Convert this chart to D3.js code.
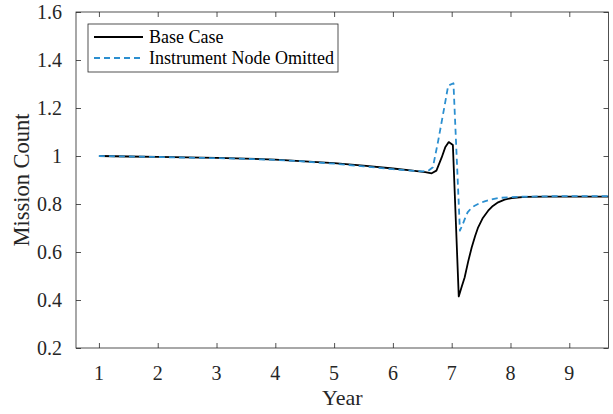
<!DOCTYPE html>
<html>
<head>
<meta charset="utf-8">
<script src="https://cdn.jsdelivr.net/npm/d3@7"></script>
<style>
  html, body { margin: 0; padding: 0; background: #fff; }
  svg { display: block; font-family: "Liberation Serif", "Times New Roman", serif; }
</style>
</head>
<body>
<svg id="chart" width="613" height="414"></svg>
<script>
// ---- data ----
const seriesNames = ["Base Case", "Instrument Node Omitted"];

const baseYear  = [1, 1.5, 2, 2.5, 3, 3.5, 4, 4.5, 5, 5.5, 6, 6.3, 6.55, 6.66, 6.74, 6.83, 6.89, 6.95, 7.02, 7.12, 7.17, 7.22, 7.28, 7.34, 7.40, 7.45, 7.53, 7.62, 7.70, 7.79, 7.90, 8.02, 8.25, 8.6, 9, 9.667];
const baseCount = [1.000, 0.998, 0.996, 0.994, 0.992, 0.989, 0.985, 0.978, 0.970, 0.960, 0.948, 0.940, 0.933, 0.928, 0.939, 0.994, 1.036, 1.058, 1.046, 0.415, 0.455, 0.494, 0.560, 0.619, 0.668, 0.703, 0.742, 0.772, 0.792, 0.807, 0.818, 0.825, 0.830, 0.831, 0.831, 0.831];

const omitYear  = [1, 1.5, 2, 2.5, 3, 3.5, 4, 4.5, 5, 5.5, 6, 6.3, 6.5, 6.6, 6.68, 6.77, 6.885, 6.94, 7.03, 7.14, 7.19, 7.23, 7.27, 7.33, 7.39, 7.47, 7.56, 7.67, 7.79, 7.95, 8.13, 8.6, 9, 9.667];
const omitCount = [1.000, 0.998, 0.996, 0.993, 0.991, 0.988, 0.984, 0.977, 0.968, 0.957, 0.945, 0.939, 0.936, 0.938, 0.953, 1.063, 1.217, 1.293, 1.303, 0.689, 0.717, 0.742, 0.765, 0.782, 0.793, 0.803, 0.811, 0.819, 0.825, 0.828, 0.830, 0.832, 0.833, 0.833];

const xTicks = [1, 2, 3, 4, 5, 6, 7, 8, 9];
const yTicks = [0.2, 0.4, 0.6, 0.8, 1.0, 1.2, 1.4, 1.6];

const xDomain = [0.61, 9.667];
const yDomain = [0.2, 1.6];

// ---- layout ----
const L = 76, R = 608.5, T = 12, B = 348;
const axisColor = "#262626";
const colors = ["#000000", "#2b8fd0"];

const svg = d3.select("#chart");
const x = d3.scaleLinear().domain(xDomain).range([L, R]);
const y = d3.scaleLinear().domain(yDomain).range([B, T]);

const fmt = d => String(+d.toFixed(1));

// axes (ticks inward, MATLAB style box)
const gx = svg.append("g").attr("transform", `translate(0,${B})`)
  .call(d3.axisBottom(x).tickValues(xTicks).tickSize(-5).tickPadding(0).tickFormat(fmt));
gx.selectAll("text").remove();
const gxTop = svg.append("g").attr("transform", `translate(0,${T})`)
  .call(d3.axisTop(x).tickValues(xTicks).tickSize(-5).tickFormat(""));
const gy = svg.append("g").attr("transform", `translate(${L},0)`)
  .call(d3.axisLeft(y).tickValues(yTicks).tickSize(-5).tickFormat(fmt));
gy.selectAll("text").remove();
const gyR = svg.append("g").attr("transform", `translate(${R},0)`)
  .call(d3.axisRight(y).tickValues(yTicks).tickSize(-5).tickFormat(""));

[gx, gxTop, gy, gyR].forEach(g => {
  g.select(".domain").remove();
  g.selectAll("line").attr("stroke", axisColor).attr("stroke-width", 0.8);
});

// box
svg.append("rect").attr("x", L).attr("y", T).attr("width", R - L).attr("height", B - T)
  .attr("fill", "none").attr("stroke", axisColor).attr("stroke-width", 0.8);

// tick labels
svg.append("g").selectAll("text").data(xTicks).join("text")
  .attr("x", d => x(d)).attr("y", 380)
  .attr("text-anchor", "middle").attr("font-size", 20).attr("fill", axisColor)
  .text(fmt);
svg.append("g").selectAll("text").data(yTicks).join("text")
  .attr("x", 62).attr("y", d => y(d)).attr("dy", "0.35em")
  .attr("text-anchor", "end").attr("font-size", 20).attr("fill", axisColor)
  .text(fmt);

// axis labels
svg.append("text").attr("x", (L + R) / 2).attr("y", 405)
  .attr("text-anchor", "middle").attr("font-size", 22).attr("fill", axisColor).text("Year");
svg.append("text").attr("transform", `translate(29,${(T + B) / 2}) rotate(-90)`)
  .attr("text-anchor", "middle").attr("font-size", 22.5).attr("fill", axisColor).text("Mission Count");

// lines
const line = d3.line().x(d => x(d[0])).y(d => y(d[1])).curve(d3.curveLinear);
const baseData = baseYear.map((v, i) => [v, baseCount[i]]);
const omitData = omitYear.map((v, i) => [v, omitCount[i]]);

svg.append("clipPath").attr("id", "clip").append("rect")
  .attr("x", L).attr("y", T).attr("width", R - L).attr("height", B - T);

svg.append("path").datum(baseData).attr("d", line).attr("clip-path", "url(#clip)")
  .attr("fill", "none").attr("stroke", colors[0]).attr("stroke-width", 1.8)
  .attr("stroke-linejoin", "round");
svg.append("path").datum(omitData).attr("d", line).attr("clip-path", "url(#clip)")
  .attr("fill", "none").attr("stroke", colors[1]).attr("stroke-width", 1.8)
  .attr("stroke-linejoin", "round")
  .attr("stroke-dasharray", "6,4");

// legend
const lg = svg.append("g");
lg.append("rect").attr("x", 88).attr("y", 24).attr("width", 250).attr("height", 48)
  .attr("fill", "#fff").attr("stroke", axisColor).attr("stroke-width", 0.8);
const legY = [37, 58];
seriesNames.forEach((name, i) => {
  lg.append("line").attr("x1", 94).attr("x2", 143).attr("y1", legY[i]).attr("y2", legY[i])
    .attr("stroke", colors[i]).attr("stroke-width", 1.8)
    .attr("stroke-dasharray", i === 1 ? "6,4" : null);
  lg.append("text").attr("x", 149).attr("y", legY[i]).attr("dy", "0.35em")
    .attr("font-size", 18).attr("fill", "#000").text(name);
});
</script>
</body>
</html>
